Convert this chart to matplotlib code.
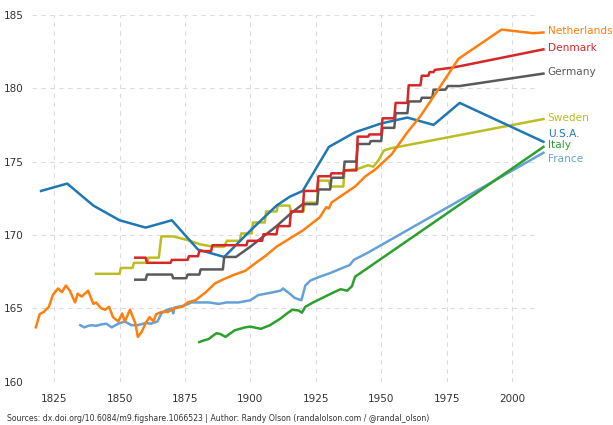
import matplotlib
matplotlib.use("Agg")
import matplotlib.pyplot as plt

# ---------------- data ----------------
nl_years = [1818, 1819.5, 1821, 1823, 1824.5, 1826.5, 1828, 1829.5, 1831, 1833, 1834, 1835.5,
            1838, 1840, 1841, 1843, 1844.5, 1846, 1847.5, 1849.5, 1851, 1852, 1854, 1856,
            1857, 1858.5, 1860, 1861.5, 1863, 1864, 1866, 1868.5, 1871, 1874, 1876, 1879,
            1883, 1886.5, 1890, 1894, 1898, 1902.5, 1906, 1910, 1915, 1920, 1926.5, 1929,
            1930, 1931, 1935, 1940, 1944, 1948, 1954, 1960, 1965, 1972.5, 1979.5, 1986.5,
            1996, 2008, 2012]
nl_vals = [163.7, 164.6, 164.75, 165.1, 165.9, 166.35, 166.1, 166.55, 166.2, 165.4, 166.0, 165.8,
           166.2, 165.3, 165.4, 165.0, 164.9, 165.1, 164.4, 164.1, 164.65, 164.1, 164.9, 164.0,
           163.05, 163.4, 164.0, 164.4, 164.1, 164.6, 164.75, 164.75, 165.0, 165.1, 165.4, 165.55,
           166.1, 166.7, 167.0, 167.3, 167.55, 168.15, 168.6, 169.2, 169.75, 170.3, 171.2, 171.9,
           171.8, 172.2, 172.7, 173.3, 174.0, 174.5, 175.5, 177.0, 178.1, 180.1, 182.0, 182.85,
           184.0, 183.75, 183.8]

dk_years = [1856, 1860, 1860.5, 1869.5, 1870, 1876, 1876.5, 1880, 1880.5, 1885, 1885.5, 1898.5,
            1899, 1904.5, 1905, 1910, 1910.5, 1915, 1915.5, 1920, 1920.5, 1925.5, 1926, 1930.5,
            1931, 1935.5, 1936, 1940.5, 1941, 1945, 1945.5, 1950, 1950.5, 1955, 1955.5, 1960,
            1960.5, 1965, 1965.5, 1968, 1968.5, 1970, 1970.5, 1977, 1980, 2012]
dk_vals = [168.45, 168.45, 168.1, 168.1, 168.3, 168.3, 168.55, 168.55, 168.9, 168.9, 169.3, 169.3,
           169.6, 169.6, 170.05, 170.05, 170.6, 170.6, 171.6, 171.6, 173.0, 173.0, 174.0, 174.0,
           174.2, 174.2, 174.4, 174.4, 176.7, 176.7, 176.85, 176.85, 177.95, 177.95, 179.0, 179.0,
           180.2, 180.2, 180.85, 180.85, 181.1, 181.1, 181.25, 181.4, 181.5, 182.65]

de_years = [1856, 1860, 1860.5, 1870, 1870.5, 1875.5, 1876, 1880.5, 1881, 1889.5, 1890, 1894.5,
            1900, 1905, 1910, 1915, 1920, 1925.5, 1926, 1930.5, 1931, 1935.5, 1936, 1940.5,
            1941, 1945.5, 1946, 1950, 1950.5, 1955, 1955.5, 1960, 1960.5, 1965, 1965.5, 1969.5,
            1970, 1974.5, 1975.5, 1980, 2012]
de_vals = [166.95, 166.95, 167.3, 167.3, 167.05, 167.05, 167.3, 167.3, 167.65, 167.65, 168.5, 168.5,
           169.2, 169.9, 170.6, 171.4, 172.1, 172.1, 173.1, 173.1, 173.9, 173.9, 175.0, 175.0,
           176.2, 176.2, 176.4, 176.4, 177.3, 177.3, 178.3, 178.3, 179.1, 179.1, 179.35, 179.35,
           179.9, 179.9, 180.15, 180.15, 181.0]

se_years = [1841, 1850, 1850.5, 1855, 1855.5, 1860.5, 1861, 1865, 1866, 1870.5, 1876, 1881,
            1886, 1890, 1891, 1896, 1896.5, 1900.5, 1901, 1905.5, 1906, 1910, 1910.5, 1915,
            1915.5, 1920.3, 1920.8, 1925.5, 1926, 1930, 1930.5, 1935.5, 1936, 1941, 1945, 1947,
            1949, 1951, 1953.5, 2012]
se_vals = [167.35, 167.35, 167.75, 167.75, 168.1, 168.1, 168.45, 168.45, 169.9, 169.9, 169.65, 169.35,
           169.2, 169.2, 169.6, 169.6, 170.1, 170.1, 170.85, 170.85, 171.6, 171.6, 172.0, 172.0,
           171.6, 171.6, 172.2, 172.2, 173.7, 173.7, 173.3, 173.3, 174.4, 174.5, 174.75, 174.65,
           175.1, 175.75, 175.9, 177.9]

us_years = [1820, 1830, 1840, 1850, 1860, 1870, 1877, 1880, 1890, 1900, 1910, 1915, 1920, 1930,
            1940, 1950, 1960, 1970, 1980, 2012]
us_vals = [173.0, 173.5, 172.0, 171.0, 170.5, 171.0, 169.6, 169.0, 168.5, 170.3, 172.0, 172.6,
           173.0, 176.0, 177.0, 177.6, 178.0, 177.5, 179.0, 176.35]

it_years = [1880.5, 1882, 1884, 1887, 1888.5, 1890.5, 1894, 1898, 1900, 1904, 1907.5, 1911.5,
            1914, 1916, 1918.5, 1919.7, 1921, 1924, 1928, 1932, 1934.5, 1937, 1938.8, 1940, 2012]
it_vals = [162.7, 162.8, 162.9, 163.3, 163.25, 163.05, 163.5, 163.7, 163.75, 163.6, 163.85, 164.3,
           164.65, 164.9, 164.85, 164.7, 165.1, 165.4, 165.75, 166.1, 166.3, 166.2, 166.5, 167.15, 176.0]

fr_years = [1835, 1836.5, 1838, 1839.5, 1841, 1843, 1845, 1847, 1849.5, 1852, 1854.5, 1857,
            1860, 1862, 1864.5, 1866, 1867.5, 1870, 1870.5, 1871, 1875, 1877.5, 1880, 1884,
            1888, 1891, 1895.5, 1900, 1903, 1907.5, 1911.5, 1912.5, 1915, 1917, 1919.5, 1921,
            1923, 1926.5, 1930.5, 1934.5, 1938, 1939.5, 1944.5, 2012]
fr_vals = [163.85, 163.7, 163.8, 163.85, 163.8, 163.9, 163.95, 163.7, 163.95, 164.1, 163.85, 163.85,
           164.0, 163.95, 164.1, 164.65, 164.85, 165.0, 164.65, 165.05, 165.2, 165.4, 165.4, 165.4,
           165.3, 165.4, 165.4, 165.55, 165.9, 166.05, 166.2, 166.35, 166.0, 165.7, 165.55, 166.55,
           166.9, 167.15, 167.4, 167.7, 167.95, 168.3, 168.75, 175.6]

countries = ["Netherlands", "Denmark", "Germany", "Sweden", "U.S.A.", "Italy", "France"]
label_y = [183.9, 182.75, 181.1, 178.0, 176.9, 176.1, 175.2]
x_ticks = [1825, 1850, 1875, 1900, 1925, 1950, 1975, 2000]
y_ticks = [160, 165, 170, 175, 180, 185]
source_text = ("Sources: dx.doi.org/10.6084/m9.figshare.1066523 | Author: Randy Olson "
               "(randalolson.com / @randal_olson)")

# ---------------- styling ----------------
colors = {
    "Netherlands": "#ff7f0e",
    "Denmark": "#d62728",
    "Germany": "#5a5a5a",
    "Sweden": "#bcbd22",
    "U.S.A.": "#1f77b4",
    "Italy": "#2ca02c",
    "France": "#66a1d6",
}
series = {
    "Netherlands": (nl_years, nl_vals),
    "Denmark": (dk_years, dk_vals),
    "Germany": (de_years, de_vals),
    "Sweden": (se_years, se_vals),
    "U.S.A.": (us_years, us_vals),
    "Italy": (it_years, it_vals),
    "France": (fr_years, fr_vals),
}

fig = plt.figure(figsize=(6.13, 4.25), dpi=100)
ax = fig.add_axes([0.052, 0.102, 0.826, 0.863])

for name in ["France", "Italy", "Sweden", "U.S.A.", "Germany", "Denmark", "Netherlands"]:
    xs, ys = series[name]
    ax.plot(xs, ys, color=colors[name], lw=1.8, clip_on=False, zorder=3)

for name, ly in zip(countries, label_y):
    ax.text(2013.6, ly, name, color=colors[name], fontsize=7.6, ha="left", va="center")

ax.set_xlim(1816.5, 2010)
ax.set_ylim(160, 185)
ax.set_xticks(x_ticks)
ax.set_yticks(y_ticks)
ax.tick_params(axis="both", length=0, labelsize=7.5, labelcolor="#333333")
ax.tick_params(axis="y", pad=6)
ax.tick_params(axis="x", pad=9)
for s in ax.spines.values():
    s.set_visible(False)
ax.grid(True, color="#dcdcdc", linestyle=(0, (4, 4)), lw=0.8, zorder=0)
ax.set_axisbelow(True)

fig.text(0.011, 0.004, source_text, fontsize=5.6, color="#333333", ha="left", va="bottom")

fig.savefig("out.png", dpi=100)
